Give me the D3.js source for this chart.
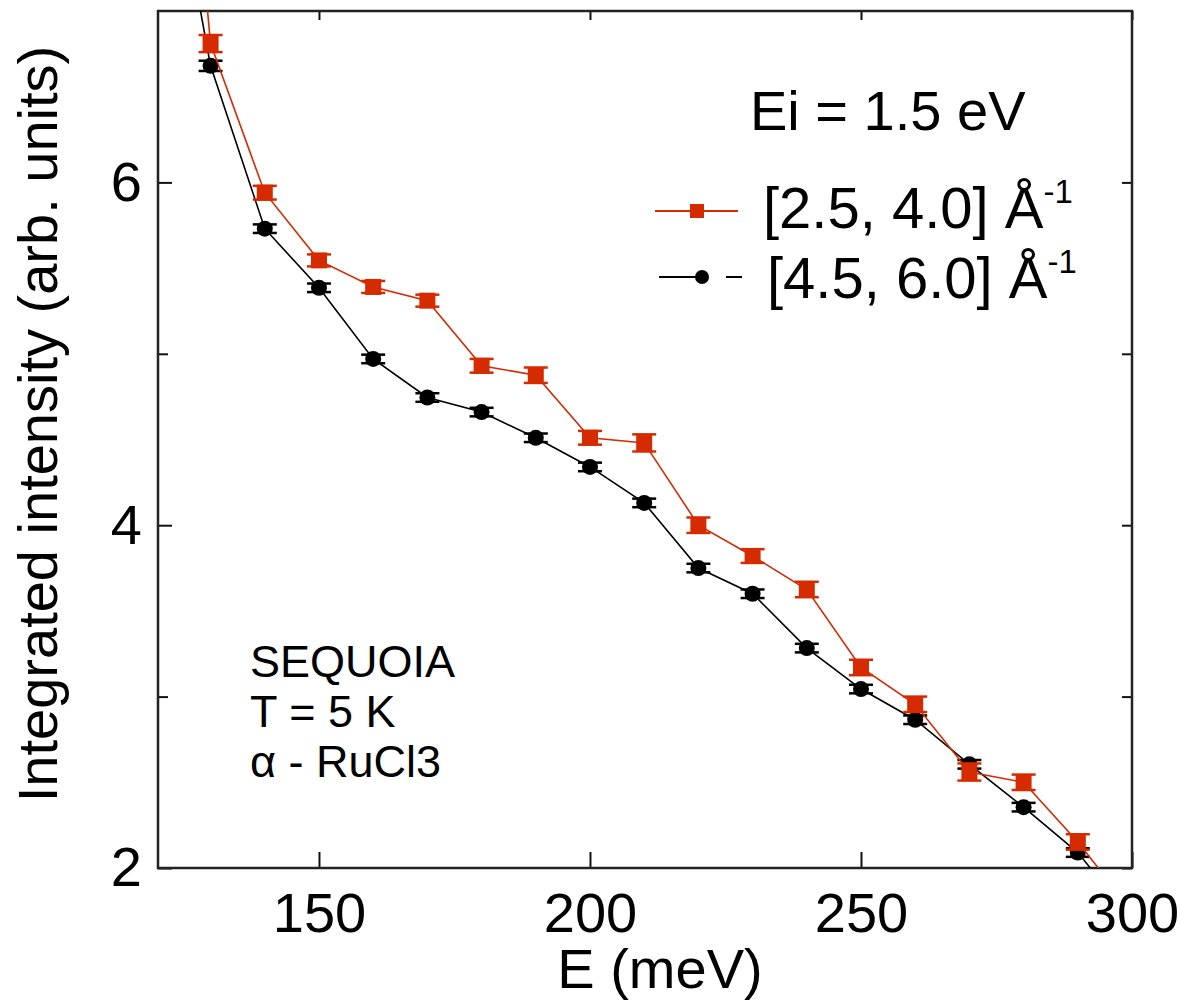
<!DOCTYPE html>
<html>
<head>
<meta charset="utf-8">
<script src="https://cdn.jsdelivr.net/npm/d3@7"></script>
<style>
	body { margin: 0; background: #fff; }
	svg text { font-family: "Liberation Sans", Arial, sans-serif; fill: #000; }
</style>
</head>
<body>
<script>
// energy transfer (meV), 120 and 300 fall outside the visible area
let energy = [120, 130, 140, 150, 160, 170, 180, 190, 200, 210, 220, 230, 240, 250, 260, 270, 280, 290, 300]
let qLow = [10.2, 6.81, 5.94, 5.545, 5.39, 5.31, 4.93, 4.875, 4.51, 4.48, 4.0, 3.82, 3.625, 3.17, 2.955, 2.56, 2.50, 2.152, 1.75]
let qLowErr = [0.05, 0.05, 0.04, 0.035, 0.035, 0.035, 0.04, 0.045, 0.04, 0.05, 0.045, 0.04, 0.045, 0.045, 0.045, 0.05, 0.045, 0.045, 0.05]
let qHigh = [8.4, 6.68, 5.73, 5.385, 4.97, 4.745, 4.66, 4.51, 4.34, 4.13, 3.75, 3.60, 3.283, 3.044, 2.865, 2.605, 2.355, 2.09, 1.7]
let qHighErr = [0.03, 0.03, 0.025, 0.025, 0.025, 0.025, 0.025, 0.025, 0.025, 0.025, 0.025, 0.025, 0.025, 0.025, 0.025, 0.025, 0.025, 0.025, 0.025]
let xTicks = [150, 200, 250, 300]
let yTicks = [2, 4, 6]
let yMinor = [3, 5]
let notes = ['SEQUOIA', 'T = 5 K', 'α - RuCl3']

let red = '#d62a00'
let W = 1180, H = 1000
let pLeft = 158, pRight = 1132, pTop = 11, pBottom = 868

let svg = d3.select('body').append('svg')
	.attr('width', W)
	.attr('height', H)

let x = d3.scaleLinear().domain([120.3, 300]).range([pLeft, pRight])
let y = d3.scaleLinear().domain([2, 7]).range([pBottom, pTop])

svg.append('clipPath').attr('id', 'clip')
	.append('rect')
	.attr('x', pLeft).attr('y', pTop)
	.attr('width', pRight - pLeft).attr('height', pBottom - pTop)

// axes: ticks pointing inward on all four sides
let ax = svg.append('g').attr('class', 'axes')
ax.append('g').attr('transform', `translate(0,${pBottom})`)
	.call(d3.axisBottom(x).tickValues(xTicks).tickSize(-16).tickPadding(24).tickFormat(d3.format('d')))
ax.append('g').attr('transform', `translate(0,${pTop})`)
	.call(d3.axisTop(x).tickValues(xTicks).tickSize(-9).tickFormat(''))
ax.append('g').attr('transform', `translate(${pLeft},0)`)
	.call(d3.axisLeft(y).tickValues(yTicks).tickSize(-14).tickPadding(16).tickFormat(d3.format('d')))
ax.append('g').attr('transform', `translate(${pLeft},0)`)
	.call(d3.axisLeft(y).tickValues(yMinor).tickSize(-10).tickFormat(''))
ax.append('g').attr('transform', `translate(${pRight},0)`)
	.call(d3.axisRight(y).tickValues(yTicks.concat(yMinor)).tickSize(-10).tickFormat(''))
ax.selectAll('.domain').remove()
ax.selectAll('.tick line').attr('stroke', '#111').attr('stroke-width', 2)
ax.selectAll('.tick text')
	.style('font-size', '56px')
	.attr('fill', '#000')

svg.append('rect')
	.attr('x', pLeft).attr('y', pTop)
	.attr('width', pRight - pLeft).attr('height', pBottom - pTop)
	.attr('fill', 'none')
	.attr('stroke', '#222')
	.attr('stroke-width', 2.5)

svg.append('text')
	.attr('x', 660).attr('y', 988)
	.attr('text-anchor', 'middle')
	.style('font-size', '56px')
	.text('E (meV)')
svg.append('text')
	.attr('transform', 'translate(57,424) rotate(-90)')
	.attr('text-anchor', 'middle')
	.style('font-size', '56px')
	.text('Integrated intensity (arb. units)')

// data
let plot = svg.append('g').attr('clip-path', 'url(#clip)')
let line = d3.line().x(d => x(d.e)).y(d => y(d.v))

function series(vals, errs, color, shape) {
	let pts = energy.map((e, i) => ({ e: e, v: vals[i], err: errs[i] }))
	plot.append('path')
		.datum(pts)
		.attr('d', line)
		.attr('fill', 'none')
		.attr('stroke', color)
		.attr('stroke-width', 1.6)
	let g = plot.append('g').selectAll('g').data(pts).join('g')
	g.append('line')
		.attr('x1', d => x(d.e)).attr('x2', d => x(d.e))
		.attr('y1', d => y(d.v - d.err)).attr('y2', d => y(d.v + d.err))
		.attr('stroke', color).attr('stroke-width', 2)
	g.selectAll('line.cap')
		.data(d => [{ e: d.e, v: d.v - d.err }, { e: d.e, v: d.v + d.err }])
		.join('line')
		.attr('class', 'cap')
		.attr('x1', d => x(d.e) - 12).attr('x2', d => x(d.e) + 12)
		.attr('y1', d => y(d.v)).attr('y2', d => y(d.v))
		.attr('stroke', color).attr('stroke-width', 2.5)
	if (shape === 'square') {
		g.append('rect')
			.attr('x', d => x(d.e) - 8).attr('y', d => y(d.v) - 8)
			.attr('width', 16).attr('height', 16)
			.attr('fill', color)
	} else {
		g.append('circle')
			.attr('cx', d => x(d.e)).attr('cy', d => y(d.v))
			.attr('r', 8)
			.attr('fill', color)
	}
}

series(qHigh, qHighErr, '#000', 'circle')
series(qLow, qLowErr, red, 'square')

// legend
svg.append('text')
	.attr('x', 750).attr('y', 130)
	.style('font-size', '56px')
	.text('Ei = 1.5 eV')

let leg = [
	{ color: red, shape: 'square', y: 211, tx: 763, base: 228, label: '[2.5, 4.0] Å' },
	{ color: '#000', shape: 'circle', y: 277, tx: 767, base: 298, label: '[4.5, 6.0] Å' },
]
let lg = svg.append('g').selectAll('g').data(leg).join('g')
lg.append('line')
	.attr('x1', (d, i) => i ? 659 : 655).attr('x2', (d, i) => i ? 742 : 738)
	.attr('y1', d => d.y).attr('y2', d => d.y)
	.attr('stroke', d => d.color).attr('stroke-width', 2)
	.attr('stroke-dasharray', (d, i) => i ? '46,21,16' : null)
lg.filter(d => d.shape === 'square').append('rect')
	.attr('x', 690).attr('y', d => d.y - 7).attr('width', 14).attr('height', 14)
	.attr('fill', d => d.color)
lg.filter(d => d.shape === 'circle').append('circle')
	.attr('cx', 702).attr('cy', d => d.y).attr('r', 7)
	.attr('fill', d => d.color)
let lt = lg.append('text')
	.attr('x', d => d.tx).attr('y', d => d.base)
	.style('font-size', '58px')
lt.append('tspan').text(d => d.label)
lt.append('tspan').attr('dy', -25).style('font-size', '33px').text('-1')

svg.append('g').selectAll('text').data(notes).join('text')
	.attr('x', 250).attr('y', (d, i) => 677 + i * 50)
	.style('font-size', '45px')
	.text(d => d)
</script>
</body>
</html>
